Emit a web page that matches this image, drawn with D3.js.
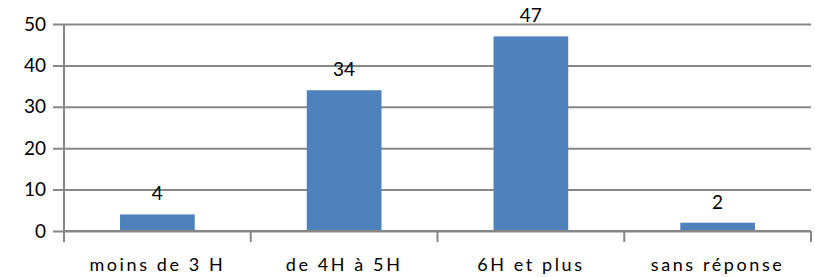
<!DOCTYPE html>
<html>
<head>
<meta charset="utf-8">
<script src="https://cdn.jsdelivr.net/npm/d3@7"></script>
<style>
  body { margin: 0; background: #fff; }
  text { font-family: Lato, "Open Sans", sans-serif; fill: #000; }
</style>
</head>
<body>
<div id="chart"><svg></svg></div>
<script>
const CATEGORIES = ['moins de 3 H', 'de 4H à 5H', '6H et plus', 'sans réponse'];
const VALUES = [4, 34, 47, 2];
const Y_TICKS = [0, 10, 20, 30, 40, 50];

const WIDTH = 815;
const HEIGHT = 277;
const PLOT = { left: 64, right: 811, top: 24, bottom: 231 };
const GRID = '#878787';

const svg = d3.select('#chart').select('svg')
  .attr('width', WIDTH)
  .attr('height', HEIGHT);

const yScale = d3.scaleLinear().domain([0, 50]).range([PLOT.bottom, PLOT.top]);
const xBand = d3.scaleBand().domain(CATEGORIES).range([PLOT.left, PLOT.right]);
const xBar = d3.scaleBand().domain(CATEGORIES).range([PLOT.left, PLOT.right])
  .paddingInner(0.6).paddingOuter(0.3);

// gridlines + y labels
const yAxis = svg.append('g')
  .attr('transform', `translate(${PLOT.left},0)`)
  .call(d3.axisLeft(yScale).tickValues(Y_TICKS).tickSize(11).tickPadding(7)
    .tickSizeOuter(0));
yAxis.select('.domain').attr('stroke', GRID).attr('stroke-width', 2)
  .attr('d', `M0,${PLOT.top}V${PLOT.bottom + 11}`);
yAxis.selectAll('.tick line').attr('stroke', GRID).attr('stroke-width', 2)
  .attr('x2', -11).attr('x1', PLOT.right - PLOT.left);
yAxis.selectAll('.tick text').attr('font-size', 19).attr('fill', '#000')
  .attr('font-family', 'Lato, sans-serif');

// bars
svg.selectAll('.bar')
  .data(CATEGORIES)
  .enter()
  .append('rect')
  .classed('bar', true)
  .attr('x', d => xBar(d))
  .attr('width', xBar.bandwidth())
  .attr('y', (d, i) => yScale(VALUES[i]))
  .attr('height', (d, i) => PLOT.bottom - yScale(VALUES[i]))
  .attr('fill', '#4F81BD');

// x axis
const xAxis = svg.append('g')
  .attr('transform', `translate(0,${PLOT.bottom})`)
  .call(d3.axisBottom(xBand).tickSize(0).tickPadding(27));
xAxis.select('.domain').attr('stroke', GRID).attr('stroke-width', 2)
  .attr('d', `M${PLOT.left},0H${PLOT.right}`);
xAxis.selectAll('.tick text').attr('font-size', 18).attr('fill', '#000')
  .attr('letter-spacing', '2.6px').attr('font-family', 'Lato, sans-serif');

svg.append('g').selectAll('line')
  .data(CATEGORIES.concat(['end']))
  .enter()
  .append('line')
  .attr('x1', (d, i) => i < CATEGORIES.length ? xBand(d) : PLOT.right)
  .attr('x2', (d, i) => i < CATEGORIES.length ? xBand(d) : PLOT.right)
  .attr('y1', PLOT.bottom)
  .attr('y2', PLOT.bottom + 11)
  .attr('stroke', GRID)
  .attr('stroke-width', 2);

// value labels
svg.selectAll('.label')
  .data(CATEGORIES)
  .enter()
  .append('text')
  .classed('label', true)
  .text((d, i) => VALUES[i])
  .attr('x', d => xBar(d) + xBar.bandwidth() / 2)
  .attr('y', (d, i) => yScale(VALUES[i]) - 14)
  .attr('text-anchor', 'middle')
  .attr('font-size', 19);
</script>
</body>
</html>
